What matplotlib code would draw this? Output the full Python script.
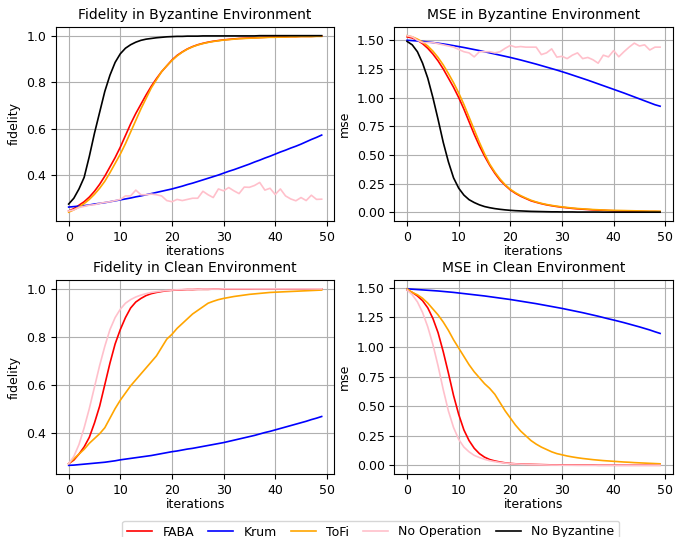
import numpy as np
import matplotlib
matplotlib.use('Agg')
import matplotlib.pyplot as plt

# ── Data ────────────────────────────────────────────────────
iters = list(range(50))

# Fidelity, Byzantine environment
fid_byz_faba = [0.245, 0.255, 0.27, 0.285, 0.305, 0.33, 0.36, 0.395, 0.435, 0.475,
                0.52, 0.57, 0.62, 0.665, 0.705, 0.745, 0.782, 0.815, 0.845, 0.87,
                0.895, 0.915, 0.93, 0.943, 0.953, 0.961, 0.967, 0.972, 0.976, 0.979,
                0.982, 0.984, 0.986, 0.988, 0.989, 0.99, 0.991, 0.992, 0.993, 0.994,
                0.994, 0.995, 0.995, 0.996, 0.996, 0.997, 0.997, 0.997, 0.998, 0.998]
fid_byz_krum = [0.262, 0.264, 0.266, 0.268, 0.271, 0.275, 0.278, 0.281, 0.285, 0.289,
                0.293, 0.297, 0.301, 0.306, 0.31, 0.315, 0.32, 0.325, 0.33, 0.335,
                0.34, 0.346, 0.352, 0.359, 0.365, 0.372, 0.379, 0.386, 0.393, 0.4,
                0.408, 0.416, 0.423, 0.431, 0.439, 0.447, 0.456, 0.464, 0.473, 0.481,
                0.49, 0.499, 0.507, 0.516, 0.524, 0.533, 0.543, 0.553, 0.562, 0.572]
fid_byz_tofi = [0.24, 0.25, 0.262, 0.277, 0.295, 0.317, 0.343, 0.373, 0.41, 0.45,
                0.49, 0.535, 0.585, 0.635, 0.685, 0.73, 0.775, 0.81, 0.845, 0.87,
                0.893, 0.913, 0.929, 0.942, 0.952, 0.96, 0.966, 0.971, 0.975, 0.978,
                0.981, 0.983, 0.985, 0.987, 0.988, 0.989, 0.99, 0.991, 0.992, 0.993,
                0.993, 0.994, 0.994, 0.995, 0.995, 0.996, 0.996, 0.996, 0.997, 0.997]
fid_byz_noop = [0.245, 0.25, 0.26, 0.265, 0.27, 0.272, 0.278, 0.282, 0.285, 0.29,
                0.295, 0.31, 0.31, 0.335, 0.315, 0.315, 0.318, 0.315, 0.31, 0.29,
                0.285, 0.295, 0.29, 0.295, 0.3, 0.3, 0.33, 0.315, 0.303, 0.34,
                0.332, 0.346, 0.332, 0.32, 0.348, 0.347, 0.355, 0.368, 0.335, 0.343,
                0.316, 0.34, 0.31, 0.297, 0.289, 0.303, 0.29, 0.313, 0.295, 0.296]
fid_byz_nobyz = [0.275, 0.30, 0.34, 0.39, 0.48, 0.58, 0.67, 0.76, 0.83, 0.885,
                 0.922, 0.946, 0.961, 0.972, 0.98, 0.985, 0.988, 0.991, 0.993, 0.995,
                 0.996, 0.997, 0.997, 0.998, 0.998, 0.998, 0.999, 0.999, 0.999, 0.999,
                 0.999, 0.999, 0.999, 0.999, 0.999, 0.999, 0.999, 1.0, 1.0, 1.0,
                 1.0, 1.0, 1.0, 1.0, 1.0, 1.0, 1.0, 1.0, 1.0, 1.0]

# MSE, Byzantine environment
mse_byz_faba = [1.53, 1.52, 1.50, 1.47, 1.43, 1.38, 1.32, 1.25, 1.17, 1.09,
                1.00, 0.90, 0.79, 0.68, 0.58, 0.49, 0.41, 0.34, 0.28, 0.235,
                0.195, 0.165, 0.14, 0.12, 0.10, 0.087, 0.075, 0.065, 0.057, 0.05,
                0.044, 0.039, 0.034, 0.03, 0.027, 0.024, 0.021, 0.019, 0.017, 0.015,
                0.013, 0.012, 0.011, 0.01, 0.009, 0.008, 0.007, 0.006, 0.006, 0.005]
mse_byz_krum = [1.5, 1.497, 1.494, 1.49, 1.485, 1.48, 1.474, 1.468, 1.461, 1.453,
                1.445, 1.437, 1.428, 1.419, 1.41, 1.40, 1.39, 1.38, 1.37, 1.36,
                1.35, 1.339, 1.328, 1.316, 1.304, 1.292, 1.279, 1.266, 1.253, 1.24,
                1.226, 1.212, 1.197, 1.182, 1.167, 1.152, 1.136, 1.12, 1.104, 1.088,
                1.072, 1.056, 1.04, 1.023, 1.006, 0.989, 0.972, 0.955, 0.938, 0.925]
mse_byz_tofi = [1.54, 1.53, 1.51, 1.485, 1.45, 1.405, 1.35, 1.285, 1.21, 1.13,
                1.04, 0.94, 0.83, 0.72, 0.61, 0.51, 0.42, 0.35, 0.29, 0.24,
                0.20, 0.17, 0.145, 0.124, 0.105, 0.09, 0.078, 0.068, 0.06, 0.053,
                0.047, 0.042, 0.037, 0.033, 0.03, 0.027, 0.024, 0.022, 0.02, 0.018,
                0.017, 0.016, 0.015, 0.014, 0.013, 0.012, 0.011, 0.01, 0.01, 0.009]
mse_byz_noop = [1.54, 1.53, 1.50, 1.48, 1.48, 1.48, 1.47, 1.46, 1.45, 1.44,
                1.42, 1.40, 1.39, 1.355, 1.40, 1.40, 1.40, 1.39, 1.40, 1.43,
                1.455, 1.44, 1.445, 1.44, 1.44, 1.44, 1.375, 1.39, 1.425, 1.353,
                1.36, 1.34, 1.37, 1.39, 1.34, 1.35, 1.33, 1.30, 1.37, 1.355,
                1.41, 1.356, 1.40, 1.44, 1.475, 1.45, 1.46, 1.415, 1.44, 1.44]
mse_byz_nobyz = [1.49, 1.46, 1.40, 1.30, 1.17, 1.00, 0.81, 0.61, 0.44, 0.30,
                 0.21, 0.15, 0.11, 0.085, 0.065, 0.05, 0.04, 0.032, 0.026, 0.021,
                 0.017, 0.014, 0.012, 0.01, 0.008, 0.007, 0.006, 0.005, 0.004, 0.004,
                 0.003, 0.003, 0.003, 0.002, 0.002, 0.002, 0.002, 0.002, 0.001, 0.001,
                 0.001, 0.001, 0.001, 0.001, 0.001, 0.001, 0.001, 0.001, 0.001, 0.001]

# Fidelity, clean environment
fid_cln_faba = [0.27, 0.285, 0.31, 0.34, 0.38, 0.44, 0.51, 0.60, 0.69, 0.77,
                0.83, 0.88, 0.92, 0.945, 0.96, 0.972, 0.98, 0.985, 0.989, 0.992,
                0.994, 0.995, 0.996, 0.997, 0.997, 0.998, 0.998, 0.998, 0.999, 0.999,
                0.999, 0.999, 0.999, 0.999, 0.999, 0.999, 1.0, 1.0, 1.0, 1.0,
                1.0, 1.0, 1.0, 1.0, 1.0, 1.0, 1.0, 1.0, 1.0, 1.0]
fid_cln_krum = [0.263, 0.264, 0.266, 0.268, 0.27, 0.272, 0.274, 0.276, 0.279, 0.282,
                0.286, 0.289, 0.292, 0.295, 0.298, 0.301, 0.304, 0.308, 0.312, 0.316,
                0.32, 0.323, 0.327, 0.331, 0.334, 0.338, 0.342, 0.346, 0.35, 0.354,
                0.358, 0.363, 0.368, 0.373, 0.378, 0.383, 0.388, 0.394, 0.4, 0.405,
                0.411, 0.417, 0.423, 0.429, 0.435, 0.441, 0.447, 0.454, 0.46, 0.467]
fid_cln_tofi = [0.27, 0.29, 0.31, 0.33, 0.355, 0.375, 0.395, 0.42, 0.46, 0.50,
                0.535, 0.565, 0.595, 0.62, 0.645, 0.67, 0.695, 0.72, 0.755, 0.79,
                0.81, 0.835, 0.855, 0.875, 0.895, 0.91, 0.925, 0.94, 0.948, 0.955,
                0.96, 0.964, 0.968, 0.971, 0.974, 0.977, 0.979, 0.981, 0.983, 0.985,
                0.986, 0.987, 0.988, 0.989, 0.99, 0.991, 0.992, 0.993, 0.994, 0.995]
fid_cln_noop = [0.27, 0.30, 0.35, 0.42, 0.50, 0.59, 0.68, 0.76, 0.83, 0.88,
                0.915, 0.94, 0.955, 0.966, 0.974, 0.98, 0.985, 0.988, 0.991, 0.993,
                0.995, 0.996, 0.997, 0.997, 0.998, 0.998, 0.999, 0.999, 0.999, 0.999,
                1.0, 1.0, 1.0, 1.0, 1.0, 1.0, 1.0, 1.0, 1.0, 1.0,
                1.0, 1.0, 1.0, 1.0, 1.0, 1.0, 1.0, 1.0, 1.0, 1.0]

# MSE, clean environment
mse_cln_faba = [1.48, 1.46, 1.43, 1.39, 1.33, 1.24, 1.12, 0.96, 0.78, 0.59,
                0.43, 0.30, 0.21, 0.145, 0.10, 0.07, 0.05, 0.038, 0.029, 0.022,
                0.017, 0.014, 0.012, 0.01, 0.009, 0.008, 0.007, 0.006, 0.005, 0.005,
                0.004, 0.004, 0.004, 0.003, 0.003, 0.003, 0.003, 0.002, 0.002, 0.002,
                0.002, 0.002, 0.002, 0.002, 0.002, 0.002, 0.002, 0.002, 0.002, 0.002]
mse_cln_krum = [1.49, 1.487, 1.484, 1.481, 1.478, 1.475, 1.472, 1.468, 1.464, 1.46,
                1.455, 1.45, 1.445, 1.44, 1.435, 1.43, 1.424, 1.418, 1.412, 1.406,
                1.40, 1.393, 1.386, 1.379, 1.372, 1.365, 1.357, 1.349, 1.341, 1.333,
                1.325, 1.316, 1.307, 1.298, 1.289, 1.279, 1.269, 1.259, 1.248, 1.237,
                1.227, 1.216, 1.205, 1.193, 1.181, 1.169, 1.156, 1.143, 1.128, 1.114]
mse_cln_tofi = [1.49, 1.46, 1.44, 1.41, 1.37, 1.32, 1.27, 1.21, 1.14, 1.06,
                0.99, 0.92, 0.85, 0.79, 0.74, 0.69, 0.65, 0.60, 0.53, 0.46,
                0.40, 0.34, 0.29, 0.25, 0.21, 0.18, 0.155, 0.135, 0.115, 0.10,
                0.09, 0.08, 0.072, 0.065, 0.059, 0.054, 0.049, 0.045, 0.041, 0.038,
                0.035, 0.032, 0.029, 0.027, 0.024, 0.022, 0.02, 0.018, 0.016, 0.014]
mse_cln_noop = [1.48, 1.44, 1.38, 1.29, 1.17, 1.02, 0.84, 0.64, 0.46, 0.32,
                0.22, 0.155, 0.115, 0.085, 0.067, 0.052, 0.04, 0.032, 0.025, 0.02,
                0.016, 0.013, 0.011, 0.009, 0.007, 0.006, 0.005, 0.004, 0.003, 0.003,
                0.002, 0.002, 0.002, 0.001, 0.001, 0.001, 0.001, 0.001, 0.001, 0.001,
                0.001, 0.001, 0.001, 0.001, 0.001, 0.001, 0.001, 0.001, 0.001, 0.001]

labels = ['FABA', 'Krum', 'ToFi', 'No Operation', 'No Byzantine']
colors = ['red', 'blue', 'orange', 'pink', 'black']

panels = [
    ('Fidelity in Byzantine Environment', 'fidelity',
     [fid_byz_faba, fid_byz_krum, fid_byz_tofi, fid_byz_noop, fid_byz_nobyz]),
    ('MSE in Byzantine Environment', 'mse',
     [mse_byz_faba, mse_byz_krum, mse_byz_tofi, mse_byz_noop, mse_byz_nobyz]),
    ('Fidelity in Clean Environment', 'fidelity',
     [fid_cln_faba, fid_cln_krum, fid_cln_tofi, fid_cln_noop, None]),
    ('MSE in Clean Environment', 'mse',
     [mse_cln_faba, mse_cln_krum, mse_cln_tofi, mse_cln_noop, None]),
]

# ── Plot ─────────────────────────────────────────────────────
fig, axes = plt.subplots(2, 2, figsize=(6.83, 5.37), dpi=100)
fig.subplots_adjust(left=0.082, right=0.985, top=0.950, bottom=0.117,
                    wspace=0.216, hspace=0.304)

handles = {}
for ax, (title, ylab, series) in zip(axes.flat, panels):
    for vals, lab, col in zip(series, labels, colors):
        if vals is None:
            continue
        line, = ax.plot(iters, vals, color=col, linewidth=1.2, label=lab)
        handles[lab] = line
    ax.set_title(title, fontsize=10)
    ax.set_xlabel('iterations', fontsize=9, labelpad=1)
    ax.set_ylabel(ylab, fontsize=9)
    ax.tick_params(labelsize=9)
    ax.set_xticks([0, 10, 20, 30, 40, 50])
    ax.grid(True)

for ax in axes[:, 1]:
    ax.set_yticks([0.0, 0.25, 0.5, 0.75, 1.0, 1.25, 1.5])
    ax.set_yticklabels(['0.00', '0.25', '0.50', '0.75', '1.00', '1.25', '1.50'])

fig.legend([handles[l] for l in labels], labels, loc='upper center',
           bbox_to_anchor=(0.543, 1 - 520.5 / 537), ncol=5, fontsize=9,
           handlelength=2.0, columnspacing=1.15, borderaxespad=0.0)

plt.savefig('out.png', dpi=100)
plt.close()
print("Saved: out.png")
